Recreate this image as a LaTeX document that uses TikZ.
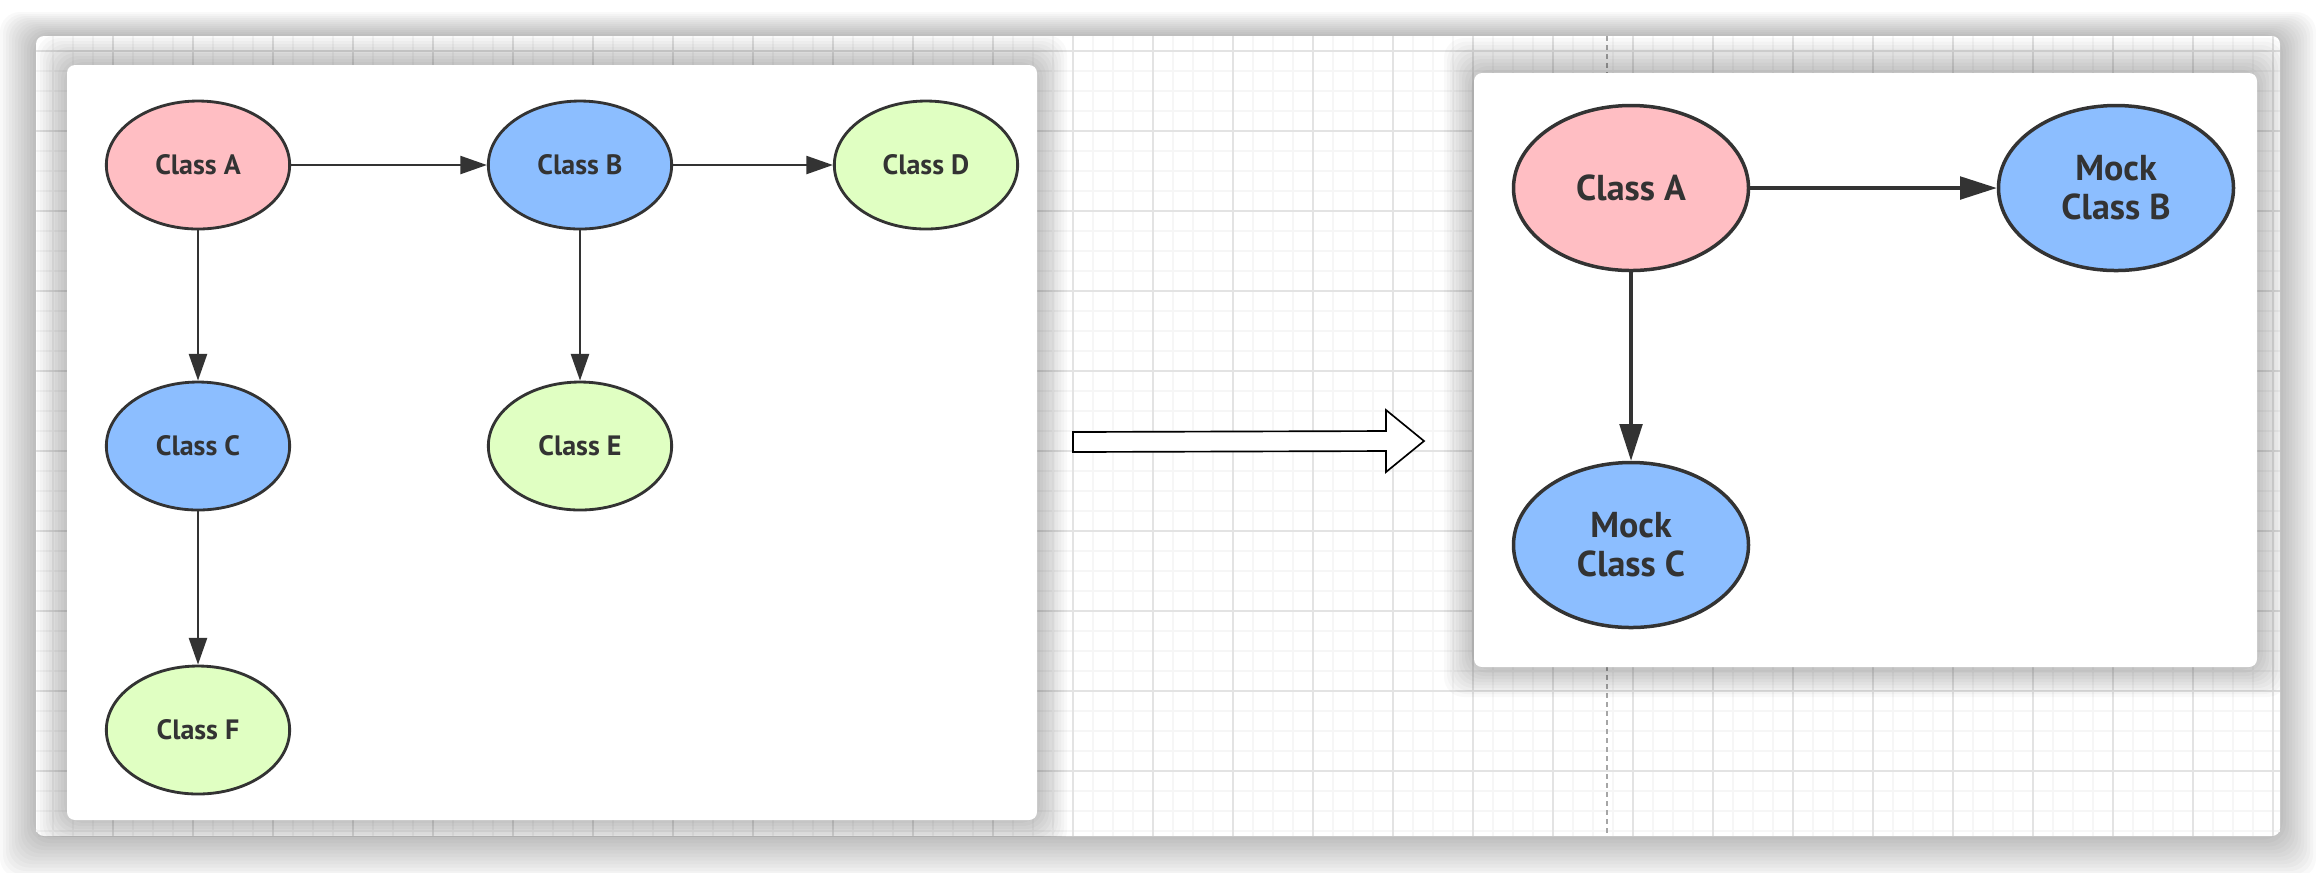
\documentclass[tikz,border=0pt]{standalone}
\usepackage{fontspec}
\setmainfont{PT Sans}
\usepackage{tikz}
\usetikzlibrary{shapes,arrows.meta,positioning}

\definecolor{clspink}{RGB}{255,190,195}
\definecolor{clsblue}{RGB}{140,190,255}
\definecolor{clsgreen}{RGB}{224,255,194}
\definecolor{inkgray}{RGB}{51,51,51}

\begin{document}
\begin{tikzpicture}[x=0.3pt,y=-0.3pt]

 \tikzstyle{cls}=[ellipse,draw=inkgray,line width=0.85pt,inner sep=0cm,
minimum width=55pt,minimum height=38.4pt,text=inkgray,
font=\fontsize{8.4}{10}\selectfont\bfseries,align=center]
 \tikzstyle{bigcls}=[cls,line width=1.05pt,minimum width=70.5pt,
minimum height=49.5pt,font=\fontsize{10.8}{11.7}\selectfont\bfseries]
 \tikzstyle{link}=[draw=inkgray,line width=0.75pt,-{Triangle[length=8pt,width=5.4pt]}]
 \tikzstyle{biglink}=[link,line width=0.95pt,-{Triangle[length=11pt,width=6.8pt]}]
 \tikzstyle{shade}=[black,opacity=0.022,rounded corners=6pt]

\useasboundingbox (0,0) rectangle (2316,872);

% Canvas with grid
\foreach \s in {1,...,12}
  \fill[shade] (36-3*\s,36-2*\s) rectangle (2280+3*\s,836+3.5*\s);
\fill[white,rounded corners=2.4pt] (36,36) rectangle (2280,836);
\begin{scope}
\clip (36,36) rectangle (2280,836);
\foreach \gx in {33,53,...,2273} \draw[gray!7,line width=0.35pt] (\gx,36) -- (\gx,836);
\foreach \gy in {31,51,...,831} \draw[gray!7,line width=0.35pt] (36,\gy) -- (2280,\gy);
\foreach \gx in {33,113,...,2273} \draw[gray!22,line width=0.35pt] (\gx,36) -- (\gx,836);
\foreach \gy in {51,131,...,771} \draw[gray!22,line width=0.35pt] (36,\gy) -- (2280,\gy);
\draw[gray!70,line width=0.35pt,dash pattern=on 1.5pt off 1.2pt] (1607,36) -- (1607,836);
% Panel shadows
\foreach \s in {1,...,10} {
  \fill[shade] (67-3*\s,65-3*\s) rectangle (1037+3*\s,820+3*\s);
  \fill[shade] (1474-3*\s,73-3.5*\s) rectangle (2257+3*\s,667+3*\s);
}
\end{scope}

% Panels
\fill[white,rounded corners=2.4pt] (67,65) rectangle (1037,820);
\fill[white,rounded corners=2.4pt] (1474,73) rectangle (2257,667);

% Original classes
\node[cls,fill=clspink] (A) at (198,165) {Class A};
\node[cls,fill=clsblue] (B) [node distance=114.6pt,right of=A] {Class B};
\node[cls,fill=clsgreen] (D) [node distance=103.8pt,right of=B] {Class D};
\node[cls,fill=clsblue] (C) [node distance=84.3pt,below of=A] {Class C};
\node[cls,fill=clsgreen] (E) [node distance=84.3pt,below of=B] {Class E};
\node[cls,fill=clsgreen] (F) [node distance=85.2pt,below of=C] {Class F};

\draw[link] (A) -- (B);
\draw[link] (B) -- (D);
\draw[link] (A) -- (C);
\draw[link] (B) -- (E);
\draw[link] (C) -- (F);

% Hollow arrow
\draw[line width=0.5pt,fill=white] (1073,432) -- (1386,431) -- (1386,410) -- (1424,441)
 -- (1386,472) -- (1386,451) -- (1073,452) -- cycle;

% Mocked classes
\node[bigcls,fill=clspink] (MA) at (1631,188) {Class A};
\node[bigcls,fill=clsblue] (MB) [node distance=145.5pt,right of=MA] {Mock\\Class B};
\node[bigcls,fill=clsblue] (MC) [node distance=107.1pt,below of=MA] {Mock\\Class C};

\draw[biglink] (MA) -- (MB);
\draw[biglink] (MA) -- (MC);

\end{tikzpicture}
\end{document}
